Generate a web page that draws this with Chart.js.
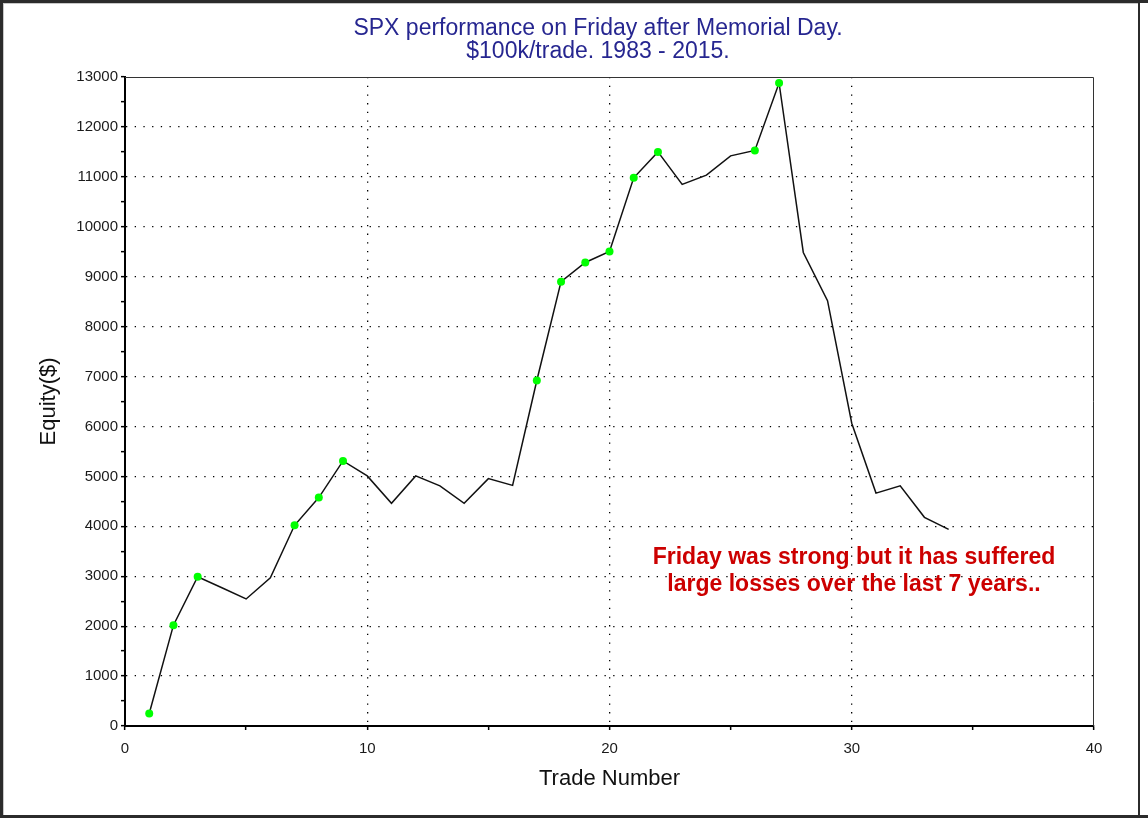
<!DOCTYPE html>
<html>
<head>
<meta charset="utf-8">
<script src="https://cdn.jsdelivr.net/npm/chart.js@4/dist/chart.umd.min.js"></script>
<style>
  html, body { margin: 0; padding: 0; background: #ffffff; }
  #wrap { width: 1148px; height: 818px; position: relative; }
  canvas { display: block; }
</style>
</head>
<body>
<div id="wrap"><canvas id="c" width="1148" height="818"></canvas></div>
<script>
// ---- Data ----
const titleLines = ['SPX performance on Friday after Memorial Day.', '$100k/trade. 1983 - 2015.'];
const xAxisTitle = 'Trade Number';
const yAxisTitle = 'Equity($)';
const noteLines = ['Friday was strong but it has suffered', 'large losses over the last 7 years..'];
const trades = [1, 2, 3, 4, 5, 6, 7, 8, 9, 10, 11, 12, 13, 14, 15, 16, 17, 18, 19, 20,
                21, 22, 23, 24, 25, 26, 27, 28, 29, 30, 31, 32, 33, 34];
const equity = [250, 2020, 2990, 2770, 2545, 2970, 4020, 4575, 5310, 5010, 4460, 5010,
                4810, 4460, 4955, 4820, 6920, 8900, 9285, 9505, 10980, 11500, 10850, 11035,
                11420, 11530, 12880, 9485, 8520, 6065, 4665, 4810, 4180, 3940];
const xRange = [0, 40];
const yRange = [0, 13000];

// ---- Chart ----
const FONT = "'Liberation Sans', Arial, sans-serif";
const points = trades.map((t, i) => ({ x: t, y: equity[i] }));

function isNewHigh(i) {
  for (let k = 0; k < i; k++) if (equity[k] >= equity[i]) return false;
  return true;
}

const decor = {
  id: 'decor',
  beforeDraw(chart) {
    const ctx = chart.ctx;
    ctx.save();
    ctx.fillStyle = '#ffffff';
    ctx.fillRect(0, 0, chart.width, chart.height);
    ctx.restore();
  },
  beforeDatasetsDraw(chart) {
    const { ctx, chartArea: a } = chart;
    ctx.save();
    ctx.strokeStyle = '#333333';
    ctx.lineWidth = 1;
    ctx.beginPath();
    ctx.moveTo(a.left, a.top + 0.5);
    ctx.lineTo(a.right - 0.5, a.top + 0.5);
    ctx.lineTo(a.right - 0.5, a.bottom);
    ctx.stroke();
    ctx.restore();
  },
  afterDraw(chart) {
    const ctx = chart.ctx;
    ctx.save();
    // title
    ctx.fillStyle = '#262690';
    ctx.font = '23px ' + FONT;
    ctx.textAlign = 'center';
    ctx.textBaseline = 'middle';
    ctx.fillText(titleLines[0], 598, 29);
    ctx.fillText(titleLines[1], 598, 52);
    // note
    ctx.fillStyle = '#cc0000';
    ctx.font = 'bold 23px ' + FONT;
    ctx.fillText(noteLines[0], 854, 558);
    ctx.fillText(noteLines[1], 854, 585);
    // outer frame
    ctx.fillStyle = '#2b2b2b';
    ctx.fillRect(0, 0, 1148, 3);
    ctx.fillRect(0, 0, 3, 818);
    ctx.fillRect(0, 815, 1148, 3);
    ctx.fillRect(1138, 0, 2, 818);
    ctx.fillStyle = '#c8c8c8';
    ctx.fillRect(3, 3, 1135, 1);
    ctx.fillRect(3, 3, 1, 812);
    ctx.restore();
  }
};

new Chart(document.getElementById('c'), {
  type: 'line',
  data: {
    datasets: [{
      data: points,
      borderColor: '#111111',
      borderWidth: 1.5,
      tension: 0,
      pointRadius: (c) => isNewHigh(c.dataIndex) ? 4 : 0,
      pointHoverRadius: 0,
      pointBackgroundColor: '#00ff00',
      pointBorderWidth: 0,
      pointBorderColor: '#00ff00'
    }]
  },
  options: {
    responsive: false,
    animation: false,
    events: [],
    layout: { padding: { top: 77, right: 54, left: 0, bottom: 0 } },
    plugins: { legend: { display: false }, title: { display: false }, tooltip: { enabled: false } },
    scales: {
      x: {
        type: 'linear',
        min: xRange[0], max: xRange[1],
        afterFit(s) { s.height = 92; },
        ticks: {
          stepSize: 5, autoSkip: false, maxRotation: 0, padding: 10,
          color: '#1a1a1a', font: { family: FONT, size: 15 },
          callback: (v) => (v % 10 === 0 ? String(v) : '')
        },
        grid: {
          color: (c) => (c.tick && c.tick.value % 10 === 0 && c.tick.value > xRange[0] && c.tick.value < xRange[1]) ? '#000000' : 'rgba(0,0,0,0)',
          lineWidth: 1.3,
          tickColor: '#000000', tickLength: 4, tickWidth: 1.5
        },
        border: { display: true, color: '#000000', width: 2, dash: [1.3, 7.4] },
        title: { display: true, text: xAxisTitle, color: '#111111', font: { family: FONT, size: 22 }, padding: { top: 0, bottom: 26 } }
      },
      y: {
        type: 'linear',
        min: yRange[0], max: yRange[1],
        afterFit(s) { s.width = 125; },
        ticks: {
          stepSize: 500, autoSkip: false, padding: 3,
          color: '#1a1a1a', font: { family: FONT, size: 15 },
          callback: (v) => (v % 1000 === 0 ? String(v) : '')
        },
        grid: {
          color: (c) => (c.tick && c.tick.value % 1000 === 0 && c.tick.value > yRange[0] && c.tick.value < yRange[1]) ? '#000000' : 'rgba(0,0,0,0)',
          lineWidth: 1.3,
          tickColor: '#000000', tickLength: 4, tickWidth: 1.5
        },
        border: { display: true, color: '#000000', width: 2, dash: [1.3, 7.4] },
        title: { display: true, text: yAxisTitle, color: '#111111', font: { family: FONT, size: 22 }, padding: { top: 36, bottom: 0 } }
      }
    }
  },
  plugins: [decor]
});
</script>
</body>
</html>
